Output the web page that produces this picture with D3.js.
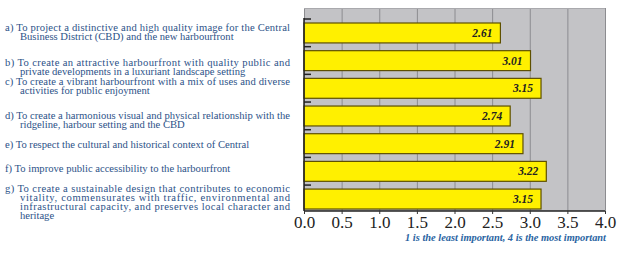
<!DOCTYPE html>
<html>
<head>
<meta charset="utf-8">
<script src="https://d3js.org/d3.v7.min.js"></script>
<style>
  body { margin: 0; background: #fff; }
  svg { display: block; }
  text { font-family: "Liberation Serif", "Times New Roman", Times, serif; }
</style>
</head>
<body>
<svg width="619" height="253"></svg>
<script>
// objectives (a..g) and their mean score
var categories = ["a", "b", "c", "d", "e", "f", "g"];
var scores = [2.61, 3.01, 3.15, 2.74, 2.91, 3.22, 3.15];
var tickValues = [0, 0.5, 1, 1.5, 2, 2.5, 3, 3.5, 4];
var labelLines = [
  ["a) To project a distinctive and high quality image for the Central", "Business District (CBD) and the new harbourfront"],
  ["b) To create an attractive harbourfront with quality public and", "private developments in a luxuriant landscape setting"],
  ["c) To create a vibrant harbourfront with a mix of uses and diverse", "activities for public enjoyment"],
  ["d) To create a harmonious visual and physical relationship with the", "ridgeline, harbour setting and the CBD"],
  ["e) To respect the cultural and historical context of Central"],
  ["f) To improve public accessibility to the harbourfront"],
  ["g) To create a sustainable design that contributes to economic", "vitality, commensurates with traffic, environmental and", "infrastructural capacity, and preserves local character and", "heritage"]
];
var note = "1 is the least important, 4 is the most important";

// layout
var plotLeft = 304, plotRight = 605, plotTop = 8, plotBottom = 211;
var labelNudge = [-1, 6, -2, 4, 1, -3, 3];
var lineH = 8.9;

var svg = d3.select("svg");

var x = d3.scaleLinear().domain([0, 4]).range([plotLeft, plotRight]);
var y = d3.scaleBand().domain(categories).range([23, 209]).paddingInner(0.28);

// plot background
svg.append("rect")
  .attr("x", plotLeft).attr("y", plotTop)
  .attr("width", plotRight - plotLeft).attr("height", plotBottom - plotTop)
  .attr("fill", "#c3c3c6");

// grid
svg.append("g")
  .attr("transform", "translate(0," + plotBottom + ")")
  .call(d3.axisBottom(x).tickValues(tickValues).tickSize(-(plotBottom - plotTop)).tickFormat(""))
  .call(function(g) {
    g.select(".domain").remove();
    g.selectAll("line").attr("stroke", "#8c8c90").attr("stroke-width", 1);
  });

// top border
svg.append("line")
  .attr("x1", plotLeft).attr("x2", plotRight)
  .attr("y1", plotTop + 0.5).attr("y2", plotTop + 0.5)
  .attr("stroke", "#a9a9ad");

// bars
svg.selectAll(".bar")
  .data(scores)
  .enter().append("rect")
  .attr("class", "bar")
  .attr("x", x(0))
  .attr("y", function(d, i) { return y(categories[i]); })
  .attr("width", function(d) { return x(d) - x(0); })
  .attr("height", y.bandwidth())
  .attr("fill", "#fff000")
  .attr("stroke", "#5e5000")
  .attr("stroke-width", 1.2);

svg.selectAll(".val")
  .data(scores)
  .enter().append("text")
  .attr("class", "val")
  .attr("x", function(d) { return x(d) - 8; })
  .attr("y", function(d, i) { return y(categories[i]) + y.bandwidth() / 2 + 4; })
  .attr("text-anchor", "end")
  .attr("font-weight", "bold")
  .attr("font-style", "italic")
  .attr("font-size", "11.5px")
  .attr("fill", "#222")
  .text(function(d) { return d.toFixed(2); });

// small y ticks above each bar
svg.selectAll(".ytick")
  .data(categories)
  .enter().append("line")
  .attr("x1", plotLeft).attr("x2", plotLeft + 7)
  .attr("y1", function(d) { return y(d) - 4; })
  .attr("y2", function(d) { return y(d) - 4; })
  .attr("stroke", "#222").attr("stroke-width", 1.5);

// axes lines
svg.append("line")
  .attr("x1", plotLeft).attr("x2", plotLeft)
  .attr("y1", y(categories[0]) - 5).attr("y2", plotBottom)
  .attr("stroke", "#222").attr("stroke-width", 1.5);
svg.append("line")
  .attr("x1", plotLeft).attr("x2", plotRight)
  .attr("y1", plotBottom).attr("y2", plotBottom)
  .attr("stroke", "#222").attr("stroke-width", 1.5);

// x axis labels
svg.append("g")
  .attr("transform", "translate(0," + plotBottom + ")")
  .call(d3.axisBottom(x).tickValues(tickValues).tickSize(3).tickPadding(2).tickFormat(d3.format(".1f")))
  .call(function(g) {
    g.select(".domain").remove();
    g.selectAll("line").attr("stroke", "#333");
    g.selectAll("text")
      .attr("font-family", null)
      .attr("font-size", "17px")
      .attr("fill", "#222")
      .attr("dy", "0.71em");
  });

svg.append("text")
  .attr("x", plotRight + 1).attr("y", 241)
  .attr("text-anchor", "end")
  .attr("font-weight", "bold")
  .attr("font-style", "italic")
  .attr("font-size", "10.4px")
  .attr("fill", "#2a64a2")
  .text(note);

// left labels
var lab = svg.selectAll(".lab")
  .data(labelLines)
  .enter().append("g")
  .attr("class", "lab")
  .attr("transform", function(d, i) {
    var cy = y(categories[i]) + y.bandwidth() / 2 + labelNudge[i];
    return "translate(0," + (cy - (d.length - 1) * lineH / 2) + ")";
  });

lab.selectAll("text")
  .data(function(d) { return d.map(function(t, j) { return { t: t, j: j, n: d.length }; }); })
  .enter().append("text")
  .attr("x", function(d) { return d.j === 0 ? 5 : 20; })
  .attr("y", function(d) { return d.j * lineH + 3.5; })
  .attr("font-size", "10.6px")
  .attr("fill", "#2c5288")
  .each(function(d) {
    if (d.n > 1 && d.j < d.n - 1) {
      d3.select(this).attr("textLength", 290 - (d.j === 0 ? 5 : 20)).attr("lengthAdjust", "spacing");
    }
  })
  .text(function(d) { return d.t; });
</script>
</body>
</html>
